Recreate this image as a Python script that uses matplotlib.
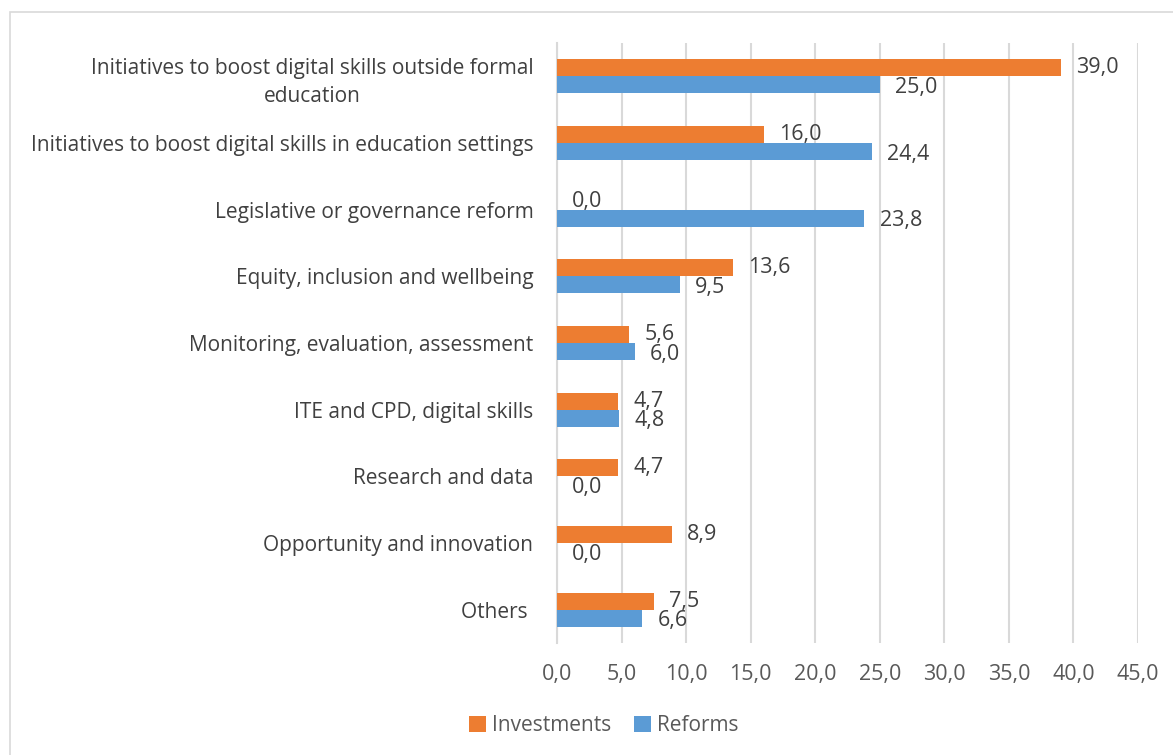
import numpy as np
import matplotlib
matplotlib.use("Agg")
from matplotlib import pyplot as plt
from matplotlib.patches import Rectangle

categories = [
    "Initiatives to boost digital skills outside formal\neducation",
    "Initiatives to boost digital skills in education settings",
    "Legislative or governance reform",
    "Equity, inclusion and wellbeing",
    "Monitoring, evaluation, assessment",
    "ITE and CPD, digital skills",
    "Research and data",
    "Opportunity and innovation",
    "Others ",
]
investments = [39.0, 16.0, 0.0, 13.6, 5.6, 4.7, 4.7, 8.9, 7.5]
reforms = [25.0, 24.4, 23.8, 9.5, 6.0, 4.8, 0.0, 0.0, 6.6]
xticks = [0, 5, 10, 15, 20, 25, 30, 35, 40, 45]

orange = "#ed7d31"
blue = "#5b9bd5"
text_col = "#404040"
tick_col = "#595959"

plt.rcParams['font.family'] = ['Open Sans', 'DejaVu Sans']

fig = plt.figure(figsize=(11.73, 7.55), dpi=100)
ax = fig.add_axes([0.4749, 0.1483, 0.4953, 0.7947])

y = np.arange(len(categories))
h = 0.255
b1 = ax.barh(y - h / 2, investments, height=h, color=orange, label="Investments", zorder=3)
b2 = ax.barh(y + h / 2, reforms, height=h, color=blue, label="Reforms", zorder=3)

def fmt(v):
    return ("%.1f" % v).replace(".", ",")

for bars, vals, dy in ((b1, investments, 0), (b2, reforms, -2)):
    for bar, v in zip(bars, vals):
        ax.annotate(fmt(v), (bar.get_width(), bar.get_y() + bar.get_height() / 2),
                    xytext=(11, dy), textcoords="offset points",
                    ha="left", va="center", fontsize=15.5, color=text_col, zorder=4)

ax.set_xlim(0, 45)
ax.set_ylim(len(categories) - 0.5, -0.5)
ax.set_xticks(xticks)
ax.set_xticklabels([fmt(v) for v in xticks], fontsize=15.5, color=tick_col)
ax.set_yticks(y)
ax.set_yticklabels(categories, fontsize=15, color=text_col)
for lbl in ax.get_yticklabels():
    lbl.set_multialignment("center")
    lbl.set_linespacing(1.45)
ax.tick_params(axis="both", length=0)
ax.tick_params(axis="x", pad=15)
ax.tick_params(axis="y", pad=17)
ax.xaxis.grid(True, color="#d9d9d9", linewidth=1.5, zorder=0)
for s in ["top", "right", "bottom"]:
    ax.spines[s].set_visible(False)
ax.spines["left"].set_color("#d9d9d9")
ax.spines["left"].set_linewidth(1.5)

leg = fig.legend(loc="center", bbox_to_anchor=(0.515, 0.039), ncol=2, frameon=False,
                 fontsize=15, handlelength=0.8, handleheight=0.8, handletextpad=0.3,
                 columnspacing=1.1)
for t in leg.get_texts():
    t.set_color(tick_col)

fig.patches.append(Rectangle((10 / 1173, -0.01), 1.02, 1 - 12 / 755 + 0.01,
                             transform=fig.transFigure, fill=False,
                             edgecolor="#d9d9d9", linewidth=1.2))

fig.savefig("out.png", dpi=100)
